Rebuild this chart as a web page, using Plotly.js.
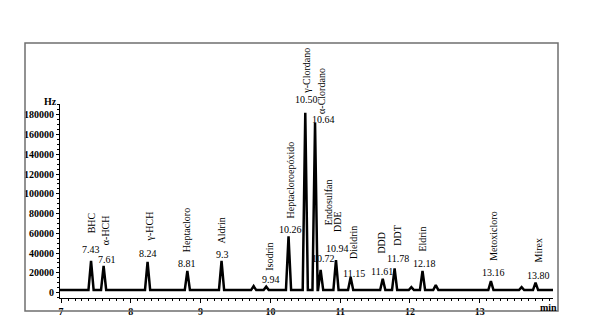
<!DOCTYPE html>
<html><head><meta charset="utf-8">
<script src="https://cdn.plot.ly/plotly-3.0.1.min.js"></script>
<style>html,body{margin:0;padding:0;background:#fff}#chart{width:589px;height:319px}</style>
</head><body><div id="chart"></div>
<script>
// ---- data ----
const retentionTimes = [7.43, 7.61, 8.24, 8.81, 9.30, 9.94, 10.26, 10.50, 10.64, 10.72, 10.94, 11.15, 11.61, 11.78, 12.18, 13.16, 13.80];
const rtLabels = ['7.43', '7.61', '8.24', '8.81', '9.3', '9.94', '10.26', '10.50', '10.64', '10.72', '10.94', '11.15', '11.61', '11.78', '12.18', '13.16', '13.80'];
const peakHeights = [32000, 27000, 31000, 22000, 32000, 6000, 57000, 182000, 172000, 23000, 33000, 15500, 14000, 24500, 22000, 11500, 10000];
const compounds = ['BHC', 'α-HCH', 'γ-HCH', 'Heptacloro', 'Aldrin', 'Isodrin', 'Heptacloroepóxido', 'γ-Clordano', 'α-Clordano', 'Endosulfan', 'DDE', 'Dieldrin', 'DDD', 'DDT', 'Eldrin', 'Metoxicloro', 'Mirex'];
const minorPeakTimes = [9.76, 12.02, 12.37, 13.60];
const minorPeakHeights = [6500, 5500, 7500, 5500];
const baselineLevel = 2500;
const yTickValues = [0, 20000, 40000, 60000, 80000, 100000, 120000, 140000, 160000, 180000];
const xTickValues = [7, 8, 9, 10, 11, 12, 13];

// ---- layout / styling (positions, not data) ----
const W = 589, H = 319, ML = 60, MR = 36, MT = 104, MB = 21;
const xRange = [6.985, 14.05];
const yRange = [-5500, 191000];
const peakHalfWidth = 0.037;
// [xshift px, bottom of rotated name (y units)]
const namePos = [[0,58500],[2,46600],[2,50300],[0,40200],[0,48300],[3,21300],[1.5,73600],[1.5,200200],[7,180000],[8,66900],[1.5,60400],[3,33100],[-1,38200],[2,46600],[0,40500],[3,31600],[3,29100]];
// [xshift px, centre of number (y units)]
const numPos = [[0,43200],[3,33100],[0,39200],[0,29800],[1,38900],[5,13600],[1.5,63500],[1,196000],[8,175700],[3,34800],[1.5,44300],[3,19600],[-1,21300],[3,34800],[2,29800],[3,20700],[3,16900]];

const plotH = H - MT - MB, plotW = W - ML - MR;
const pxPerY = plotH / (yRange[1] - yRange[0]);
const px2paperX = p => (p - ML) / plotW;
const px2paperY = p => (H - MB - p) / plotH;

// build the signal trace from the peak table
const peaks = retentionTimes.map((t, i) => ({t, h: peakHeights[i]}))
  .concat(minorPeakTimes.map((t, i) => ({t, h: minorPeakHeights[i]})))
  .sort((a, b) => a.t - b.t);
const sx = [xRange[0]], sy = [baselineLevel];
peaks.forEach(p => {
  sx.push(p.t - peakHalfWidth, p.t, p.t + peakHalfWidth);
  sy.push(baselineLevel, p.h, baselineLevel);
});
sx.push(xRange[1]); sy.push(baselineLevel);

const serif = 'Liberation Serif, Times New Roman, serif';
const annFont = {family: serif, size: 10, color: '#000'};

function placeY(v) {
  const lim = yRange[1] - 1000;
  if (v > lim) return {y: lim, yshift: (v - lim) * pxPerY};
  return {y: v, yshift: 0};
}

const annotations = [];
compounds.forEach((name, i) => {
  const p = placeY(namePos[i][1]);
  annotations.push({x: retentionTimes[i], y: p.y, yshift: p.yshift, xshift: namePos[i][0], xref: 'x', yref: 'y',
    text: name, textangle: -90, showarrow: false, xanchor: 'center', yanchor: 'bottom', font: annFont, borderpad: 0});
  const q = placeY(numPos[i][1]);
  annotations.push({x: retentionTimes[i], y: q.y, yshift: q.yshift, xshift: numPos[i][0], xref: 'x', yref: 'y',
    text: rtLabels[i], showarrow: false, xanchor: 'center', yanchor: 'middle', font: annFont, borderpad: 0});
});
annotations.push({xref: 'paper', yref: 'paper', x: px2paperX(50), y: px2paperY(101), text: '<b>Hz</b>', showarrow: false,
  xanchor: 'center', yanchor: 'middle', font: annFont});
annotations.push({xref: 'paper', yref: 'paper', x: px2paperX(548), y: px2paperY(307), text: '<b>min</b>', showarrow: false,
  xanchor: 'center', yanchor: 'middle', font: annFont});

const layout = {
  width: W, height: H,
  margin: {l: ML, r: MR, t: MT, b: MB, pad: 0},
  paper_bgcolor: '#fff', plot_bgcolor: '#fff',
  showlegend: false,
  xaxis: {range: xRange, tickvals: xTickValues, ticktext: xTickValues.map(String), showgrid: false, zeroline: false,
    showline: true, linecolor: '#000', linewidth: 1, ticks: 'outside', ticklen: 4, tickcolor: '#000',
    minor: {dtick: 0.1, ticks: 'outside', ticklen: 2, tickcolor: '#000', showgrid: false},
    tickfont: {family: serif, size: 10, color: '#000', weight: 'bold'}, fixedrange: true},
  yaxis: {range: yRange, tickvals: yTickValues, tickformat: 'd', showgrid: false, zeroline: false,
    showline: true, linecolor: '#000', linewidth: 1, ticks: 'outside', ticklen: 3, tickcolor: '#000',
    minor: {dtick: 5000, ticks: 'outside', ticklen: 2, tickcolor: '#000', showgrid: false},
    tickfont: {family: serif, size: 10, color: '#000', weight: 'bold'}, fixedrange: true},
  annotations: annotations,
  shapes: [{type: 'rect', xref: 'paper', yref: 'paper', x0: px2paperX(25), x1: px2paperX(558), y0: px2paperY(311), y1: px2paperY(43),
    line: {color: '#6f6f6f', width: 1.5}, fillcolor: 'rgba(0,0,0,0)', layer: 'above'}]
};

const trace = {x: sx, y: sy, type: 'scatter', mode: 'lines', line: {color: '#000', width: 2.5}, hoverinfo: 'skip', cliponaxis: false};
Plotly.newPlot('chart', [trace], layout, {staticPlot: true, displayModeBar: false});
</script>
</body></html>
